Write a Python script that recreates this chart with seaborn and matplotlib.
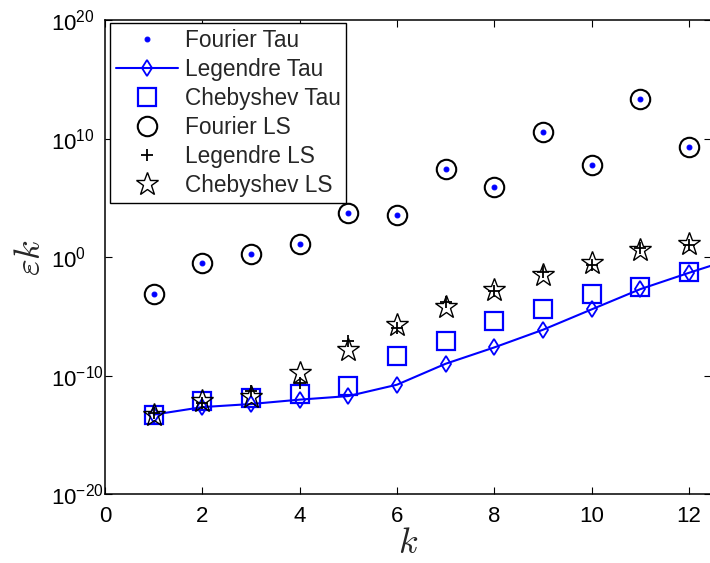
import matplotlib
matplotlib.use("Agg")
import matplotlib.pyplot as plt
import matplotlib.ticker as mticker
import numpy as np
import pandas as pd
import seaborn as sns

# values (log10 of the error)
k = [1, 2, 3, 4, 5, 6, 7, 8, 9, 10, 11, 12]
k_leg_tau = k + [13]
fourier_tau = [-3.1, -0.47, 0.31, 1.13, 3.75, 3.55, 7.46, 5.94, 10.55, 7.8, 13.37, 9.34]
legendre_tau = [-13.3, -12.66, -12.4, -12.03, -11.73, -10.77, -9.0, -7.62, -6.13, -4.41, -2.7, -1.32, 0.0]
chebyshev_tau = [-13.3, -12.15, -11.9, -11.53, -10.88, -8.35, -7.09, -5.4, -4.41, -3.09, -2.53, -1.27]
fourier_ls = fourier_tau
legendre_ls = [-13.2, -12.35, -11.3, -10.6, -7.09, -5.96, -3.8, -2.87, -1.27, -0.62, 0.79, 1.07]
chebyshev_ls = [-13.36, -12.15, -11.78, -9.81, -7.85, -5.76, -4.19, -2.73, -1.54, -0.47, 0.59, 1.16]

sns.set_style("ticks")
plt.rcParams["font.family"] = ["Liberation Sans", "DejaVu Sans"]

fig = plt.figure(figsize=(7.1, 5.63), dpi=100)
ax = fig.add_axes([0.148, 0.1226, 0.853, 0.841])


def series(x, logy):
    return pd.DataFrame({"k": x, "err": 10.0 ** np.asarray(logy)})


common = dict(x="k", y="err", ax=ax, estimator=None, sort=False)

sns.lineplot(data=series(k, fourier_tau), ls="", marker=".", ms=7, mfc="blue", mec="blue",
             color="blue", label="Fourier Tau", **common)
sns.lineplot(data=series(k_leg_tau, legendre_tau), ls="-", lw=1.5, marker="d", ms=8,
             mfc="none", mec="blue", mew=1.3, color="blue", label="Legendre Tau", **common)
sns.lineplot(data=series(k, chebyshev_tau), ls="", marker="s", ms=13, mfc="none", mec="blue",
             mew=1.6, color="blue", label="Chebyshev Tau", **common)
sns.lineplot(data=series(k, fourier_ls), ls="", marker="o", ms=14, mfc="none", mec="black",
             mew=1.5, color="black", label="Fourier LS", **common)
sns.lineplot(data=series(k, legendre_ls), ls="", marker="+", ms=8, mfc="none", mec="black",
             mew=1.3, color="black", label="Legendre LS", **common)
sns.lineplot(data=series(k, chebyshev_ls), ls="", marker="*", ms=17, mfc="none", mec="black",
             mew=1.0, color="black", label="Chebyshev LS", **common)

ax.set_yscale("log")
ax.set_ylim(1e-20, 1e20)
ax.set_xlim(0, 12.45)
ax.yaxis.set_major_locator(mticker.FixedLocator([1e-20, 1e-10, 1e0, 1e10, 1e20]))
ax.yaxis.set_minor_locator(mticker.NullLocator())
ax.yaxis.set_major_formatter(mticker.FuncFormatter(
    lambda v, p: r"$\mathregular{10^{%d}}$" % int(round(np.log10(v)))))
ax.set_xticks([0, 2, 4, 6, 8, 10, 12])

ax.tick_params(direction="in", length=5, width=0.8, top=True, right=True,
               labelsize=16, colors="black")
ax.tick_params(axis="x", pad=9)
ax.tick_params(axis="y", pad=39)
for lbl in ax.get_yticklabels():
    lbl.set_horizontalalignment("left")
for sp in ax.spines.values():
    sp.set_visible(True)
    sp.set_linewidth(1.1)
    sp.set_color("black")

ax.set_xlabel(r"$k$", fontsize=26, math_fontfamily="cm", labelpad=-1)
ax.set_ylabel(r"$\varepsilon k$", fontsize=26, math_fontfamily="cm", labelpad=2)

leg = ax.legend(loc="upper left", bbox_to_anchor=(0.008, 0.995), fontsize=16.3,
                frameon=True, fancybox=False, edgecolor="black", framealpha=1,
                handlelength=2.75, handletextpad=0.3, labelspacing=0.27,
                borderpad=0.25, borderaxespad=0.0)
leg.get_frame().set_linewidth(1.0)

fig.savefig("out.png", dpi=100)
